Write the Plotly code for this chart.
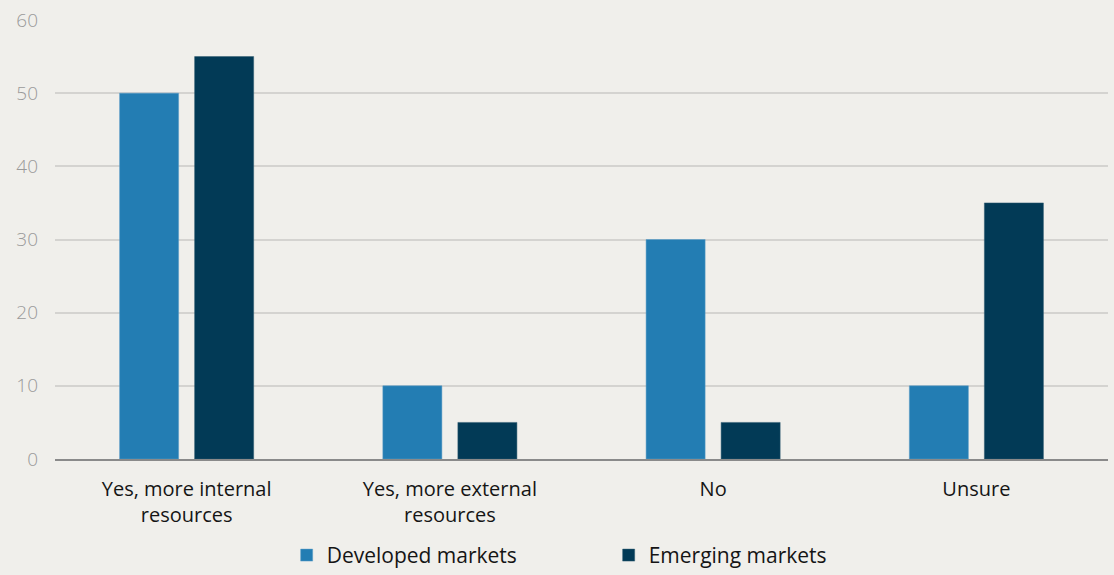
import plotly.graph_objects as go

categories = ["Yes, more internal<br>resources", "Yes, more external<br>resources", "No", "Unsure"]
developed = [50, 10, 30, 10]
emerging = [55, 5, 5, 35]
y_ticks = [0, 10, 20, 30, 40, 50, 60]

bg = "#f0efeb"
fig = go.Figure()
fig.add_trace(go.Bar(name="Developed markets", x=categories, y=developed,
                     marker=dict(color="#237db3", line=dict(color="#5a9cc6", width=0.5))))
fig.add_trace(go.Bar(name="Emerging markets", x=categories, y=emerging,
                     marker=dict(color="#023a56", line=dict(color="#2f5a70", width=0.5))))

fig.update_layout(
    width=1114, height=575,
    paper_bgcolor=bg, plot_bgcolor=bg,
    margin=dict(l=55, r=6, t=20, b=116),
    barmode="group", bargap=0.43, bargroupgap=0.213,
    font=dict(family="Open Sans, sans-serif", color="#151515"),
    showlegend=True,
    legend=dict(orientation="h", x=0.22, xanchor="left", yref="container",
                y=0.034, yanchor="middle",
                font=dict(size=21, color="#151515", weight=500),
                traceorder="normal", entrywidth=277),
    xaxis=dict(showgrid=False, ticks="", ticklabelstandoff=11, automargin=False,
               tickfont=dict(size=20, color="#151515", weight=500),
               showline=True, linecolor="#8a8a8a", linewidth=1.5),
    yaxis=dict(range=[0, 60], tickvals=y_ticks, showgrid=True, gridcolor="#d4d3d0",
               gridwidth=1.5, zeroline=False, ticks="", ticklabelstandoff=16, automargin=False,
               tickfont=dict(size=19, color="#9a9a9a", weight=300)),
)
fig.write_html("out.html", config={"displayModeBar": False},
               post_script="document.body.style.margin='0px';")
